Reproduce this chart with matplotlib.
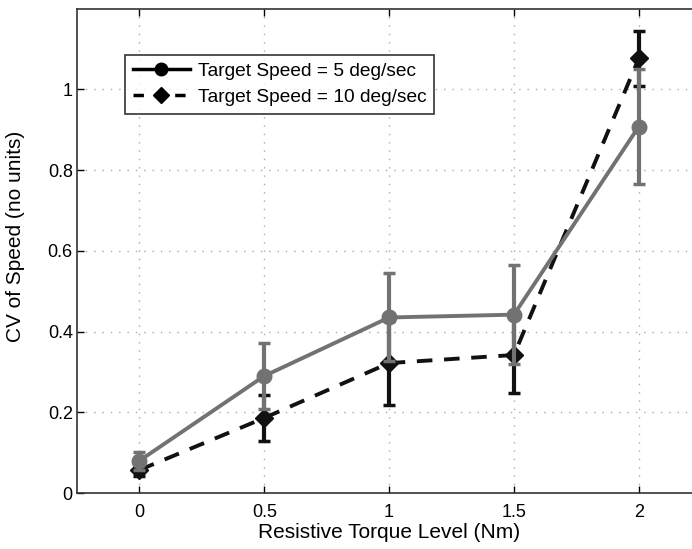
import matplotlib.pyplot as plt
from matplotlib.lines import Line2D
import numpy as np

# torque levels (Nm)
torque = [0, 0.5, 1, 1.5, 2]

# target speed 5 deg/sec
cv_5 = [0.08, 0.29, 0.435, 0.442, 0.908]
err_5 = [0.022, 0.082, 0.109, 0.122, 0.143]

# target speed 10 deg/sec
cv_10 = [0.057, 0.186, 0.322, 0.342, 1.077]
err_10 = [0.015, 0.057, 0.105, 0.093, 0.068]

labels = ['Target Speed = 5 deg/sec', 'Target Speed = 10 deg/sec']
xticks = [0, 0.5, 1, 1.5, 2]
yticks = [0, 0.2, 0.4, 0.6, 0.8, 1]

plt.rcParams['font.family'] = ['Liberation Sans', 'DejaVu Sans']

fig = plt.figure(figsize=(6.92, 5.49), dpi=100)
ax = fig.add_axes([0.1113, 0.102, 0.902, 0.882])

# series 10 deg/sec (black, dashed, diamonds)
ax.errorbar(torque, cv_10, yerr=err_10, color='#111111', linestyle=(0, (4, 3)),
            linewidth=2.8, marker='D', markersize=9, capsize=4, capthick=2.5,
            elinewidth=3.0, zorder=3)
# series 5 deg/sec (gray, solid, circles)
ax.errorbar(torque, cv_5, yerr=err_5, color='#727272', linestyle='-',
            linewidth=2.8, marker='o', markersize=10.5, capsize=4, capthick=2.5,
            elinewidth=3.0, zorder=4)

ax.set_xlim(-0.25, 2.25)
ax.set_ylim(0, 1.2)
ax.set_xticks(xticks)
ax.set_xticklabels(['0', '0.5', '1', '1.5', '2'])
ax.set_yticks(yticks)
ax.set_yticklabels(['0', '0.2', '0.4', '0.6', '0.8', '1'])
ax.tick_params(direction='in', length=5, width=1, labelsize=13, top=True, right=True)
ax.tick_params(axis='x', pad=8)
ax.tick_params(axis='y', pad=3)
ax.grid(True, linestyle=(0, (1, 5)), color='#aaaaaa', linewidth=1)
for s in ax.spines.values():
    s.set_color('#333333')
    s.set_linewidth(1.2)

ax.set_xlabel('Resistive Torque Level (Nm)', fontsize=15, labelpad=1)
ax.set_ylabel('CV of Speed (no units)', fontsize=15)
ax.yaxis.set_label_coords(-0.083, 0.53)

handles = [
    Line2D([], [], color='black', linestyle='-', linewidth=2.5, marker='o', markersize=9),
    Line2D([], [], color='black', linestyle=(0, (3, 3)), linewidth=2.5, marker='D', markersize=8),
]
leg = ax.legend(handles, labels, loc='upper left', bbox_to_anchor=(0.077, 0.905),
                fontsize=13.8, frameon=True, fancybox=False, handlelength=3.0,
                borderpad=0.4, labelspacing=0.45, handletextpad=0.4,
                borderaxespad=0)
leg.get_frame().set_edgecolor('black')
leg.get_frame().set_linewidth(1.2)

fig.savefig('out.png', dpi=100)
